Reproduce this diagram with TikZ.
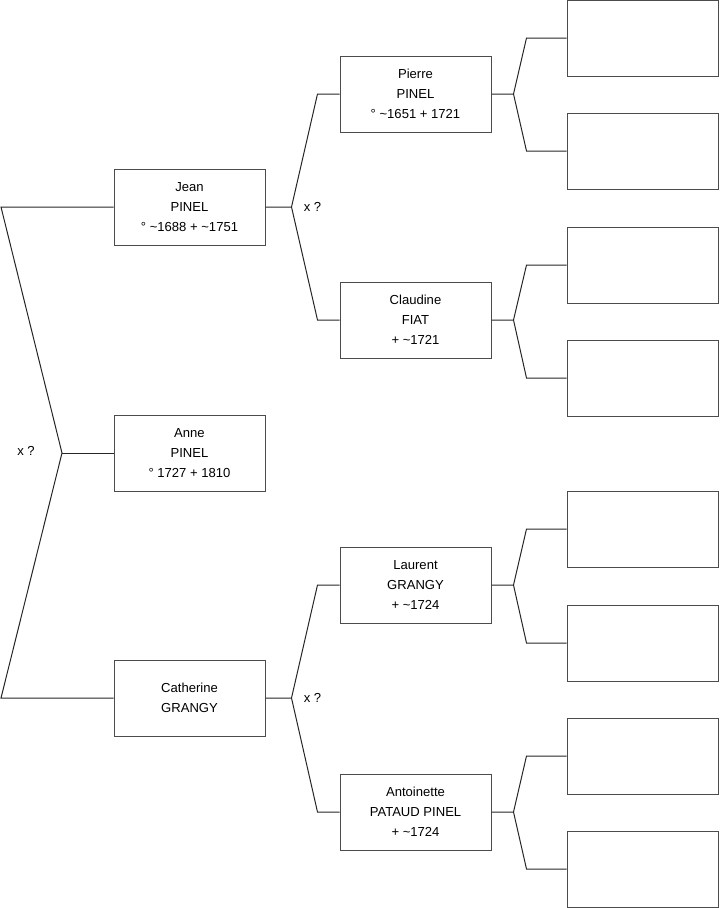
\documentclass[tikz,border=0pt]{standalone}
\usepackage{fontspec}
\setmainfont{Liberation Sans}
\usetikzlibrary{positioning,calc}

\newcommand{\ca}{\textasciitilde}

\begin{document}
\begin{tikzpicture}[
  x=0.75pt, y=-0.75pt,
  font=\fontsize{9.8}{15}\selectfont,
  box/.style={
    draw=black!70, line width=0.75pt, minimum width=113.25pt,
    minimum height=57pt, inner sep=2pt, align=center
  },
  person/.style={box},
  blank/.style={box},
  link/.style={draw=black!85, line width=0.75pt},
  union/.style={inner sep=0pt}
]
  \useasboundingbox (0,0) rectangle (719,908);

  % generation 1 and 2
  \node[person] (jean)  at (189.5,207) {Jean\\PINEL\\° \ca1688 + \ca1751};
  \node[person] (anne)  at (189.5,453) {Anne\\PINEL\\° 1727 + 1810};
  \node[person] (cath)  at (189.5,698) {Catherine\\GRANGY};

  % generation 3
  \node[person] (pierre) at (415.5,94)  {Pierre\\PINEL\\° \ca1651 + 1721};
  \node[person] (claud)  at (415.5,320) {Claudine\\FIAT\\+ \ca1721};
  \node[person] (laur)   at (415.5,585) {Laurent\\GRANGY\\+ \ca1724};
  \node[person] (anto)   at (415.5,812) {Antoinette\\PATAUD PINEL\\+ \ca1724};

  % generation 4 (unknown)
  \foreach \n/\y in {b1/38, b2/151, b3/265, b4/378, b5/529, b6/643, b7/756, b8/869}
    \node[blank] (\n) at (642.5,\y) {};

  % anne's parents
  \coordinate (ja) at (1,207);
  \coordinate (an) at (62,453);
  \coordinate (cb) at (1,698);
  \draw[link] (jean.west) -- (ja) -- (an) -- (cb) -- (cath.west);
  \draw[link] (an) -- (anne.west);
  \node[union] (xa) at (26,451) {x ?};

  % jean's and catherine's parents
  \foreach \p/\u/\l/\m in {jean/pierre/claud/xj, cath/laur/anto/xc} {
    \draw[link] (\p.east) -- ++(26,0) coordinate (f\p)
      -- ($(\u.west)+(-22,0)$) -- (\u.west);
    \draw[link] (f\p) -- ($(\l.west)+(-22,0)$) -- (\l.west);
    \node[union, right=9pt of f\p] (\m) {x ?};
  }

  % grandparents' parents
  \foreach \p/\u/\l in {pierre/b1/b2, claud/b3/b4, laur/b5/b6, anto/b7/b8} {
    \draw[link] (\p.east) -- ++(22,0) coordinate (f\p)
      -- ($(\u.west)+(-40,0)$) -- (\u.west);
    \draw[link] (f\p) -- ($(\l.west)+(-40,0)$) -- (\l.west);
  }
\end{tikzpicture}
\end{document}
